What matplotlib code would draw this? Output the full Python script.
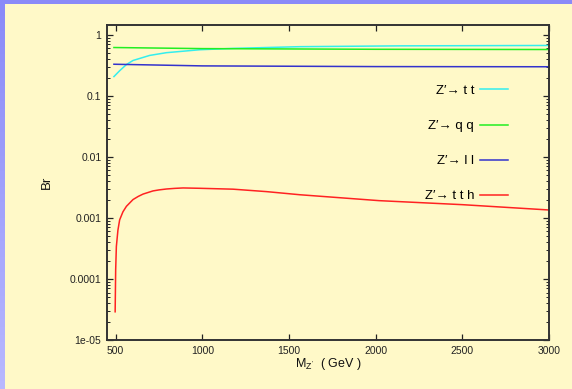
import numpy as np
import matplotlib
matplotlib.use('Agg')
import matplotlib.pyplot as plt
from matplotlib.patches import Rectangle
from matplotlib.ticker import FixedLocator, FixedFormatter, LogLocator, NullFormatter

plt.rcParams['font.family'] = ['Liberation Sans', 'DejaVu Sans']
plt.rcParams['mathtext.fontset'] = 'custom'
plt.rcParams['mathtext.rm'] = 'Liberation Sans'
plt.rcParams['mathtext.it'] = 'Liberation Sans'

# Branching ratios
mass_tt = [490, 524, 562, 600, 696, 792, 985, 1177, 1562, 2140, 3000]
br_tt = [0.207, 0.26, 0.326, 0.38, 0.46, 0.51, 0.57, 0.60, 0.64, 0.66, 0.67]

mass_qq = [490, 1000, 2000, 3000]
br_qq = [0.62, 0.595, 0.58, 0.575]

mass_ll = [490, 1000, 2000, 3000]
br_ll = [0.33, 0.31, 0.302, 0.30]

mass_tth = [497, 500, 504, 513, 523, 542, 562, 600, 630, 658, 715, 750, 793, 840,
            889, 985, 1177, 1370, 1562, 2020, 2500, 3000]
br_tth = [2.9e-5, 1.4e-4, 3.4e-4, 6.3e-4, 9.3e-4, 1.26e-3, 1.55e-3, 2.0e-3, 2.25e-3,
          2.46e-3, 2.77e-3, 2.88e-3, 2.98e-3, 3.05e-3, 3.1e-3, 3.06e-3, 2.96e-3,
          2.7e-3, 2.4e-3, 1.92e-3, 1.65e-3, 1.35e-3]

labels = ['Z\u2032\u2192 t t', 'Z\u2032\u2192 q q', 'Z\u2032\u2192 l l', 'Z\u2032\u2192 t t h']
colors = ['#33eeee', '#22ee22', '#3333cc', '#ff2222']

xticks = [500, 1000, 1500, 2000, 2500, 3000]
yticks = [1e-5, 1e-4, 1e-3, 1e-2, 1e-1, 1]
ytick_labels = ['1e-05', '0.0001', '0.001', '0.01', '0.1', '1']

bg = '#fff9c8'
fig = plt.figure(figsize=(5.72, 3.89), dpi=100, facecolor=bg)

# blue slide border (top strip and left gradient strip)
fig.patches.append(Rectangle((0, 1 - 4 / 389), 1, 4 / 389, transform=fig.transFigure,
                             facecolor='#8a8af8', edgecolor='none', zorder=-1))
left = fig.add_axes([0, 0, 5 / 572, 1])
left.imshow(np.linspace(0, 1, 50).reshape(-1, 1),
            cmap=matplotlib.colors.LinearSegmentedColormap.from_list('b', ['#8a8af8', '#b8b8ff']),
            aspect='auto', origin='upper')
left.axis('off')

ax = fig.add_axes([107 / 572, 49 / 389, 442 / 572, 315 / 389])
ax.set_facecolor(bg)

series = [(mass_tt, br_tt), (mass_qq, br_qq), (mass_ll, br_ll), (mass_tth, br_tth)]
for (m, b), lab, c in zip(series, labels, colors):
    ax.plot(m, b, color=c, lw=1.1, label=lab)

ax.set_yscale('log')
ax.set_xlim(450, 3000)
ax.set_ylim(1e-5, 1.45)

ax.xaxis.set_major_locator(FixedLocator(xticks))
ax.yaxis.set_major_locator(FixedLocator(yticks))
ax.yaxis.set_major_formatter(FixedFormatter(ytick_labels))
ax.yaxis.set_minor_locator(LogLocator(base=10, subs=np.arange(2, 10), numticks=20))
ax.yaxis.set_minor_formatter(NullFormatter())

ax.tick_params(which='both', direction='in', top=True, right=True, colors='#222222',
               labelsize=7.5, labelcolor='#222222')
ax.tick_params(which='major', length=4, width=0.9, pad=4)
ax.tick_params(which='minor', length=2, width=0.7)
for s in ax.spines.values():
    s.set_linewidth(1.4)
    s.set_color('#333333')

ax.set_xlabel("M$_{Z'}$  ( GeV )", fontsize=9, color='#111111', labelpad=0)
ax.set_ylabel('Br', fontsize=9.5, color='#111111', labelpad=12)

ax.legend(loc='upper right', bbox_to_anchor=(0.907, 0.81), frameon=False,
          markerfirst=False, fontsize=9.5, handlelength=2.1, handletextpad=0.45,
          labelspacing=1.73, borderpad=0, borderaxespad=0)

fig.savefig('out.png', dpi=100, facecolor=bg)
